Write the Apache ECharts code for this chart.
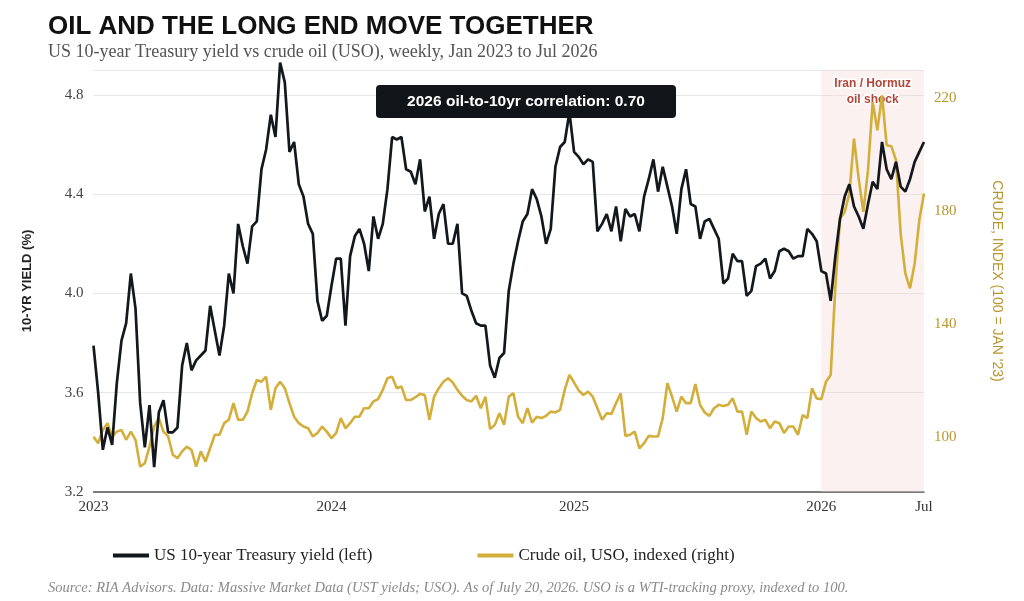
<!DOCTYPE html>
<html lang="en">
<head>
  <meta charset="UTF-8">
  <title>Oil and the long end</title>
  <script src="https://cdn.jsdelivr.net/npm/echarts@6/dist/echarts.min.js"></script>
  <style>
    html, body { margin: 0; padding: 0; background: #fff; }
    #chart { width: 1024px; height: 601px; }
  </style>
</head>
<body>
  <div id="chart"></div>
  <script>
    // weekly series, first week of Jan 2023 onward
    const startDate = '2023-01-06'
    const yieldData = [
      3.79, 3.60, 3.37, 3.46, 3.39, 3.64, 3.81, 3.88, 4.08, 3.94,
      3.56, 3.38, 3.55, 3.30, 3.52, 3.57, 3.44, 3.44, 3.46, 3.71,
      3.80, 3.69, 3.73, 3.75, 3.77, 3.95, 3.85, 3.75, 3.87, 4.08,
      4.00, 4.28, 4.19, 4.12, 4.27, 4.29, 4.50, 4.58, 4.72, 4.63,
      4.93, 4.85, 4.57, 4.61, 4.44, 4.39, 4.28, 4.24, 3.97, 3.89,
      3.91, 4.03, 4.14, 4.14, 3.87, 4.15, 4.23, 4.26, 4.20, 4.09,
      4.31, 4.22, 4.28, 4.42, 4.63, 4.62, 4.63, 4.50, 4.49, 4.44,
      4.54, 4.33, 4.39, 4.22, 4.32, 4.36, 4.20, 4.20, 4.28, 4.00,
      3.99, 3.93, 3.88, 3.87, 3.87, 3.71, 3.66, 3.74, 3.76, 4.01,
      4.12, 4.21, 4.29, 4.32, 4.42, 4.38, 4.31, 4.20, 4.26, 4.51,
      4.59, 4.61, 4.73, 4.57, 4.55, 4.52, 4.54, 4.53, 4.25, 4.28,
      4.32, 4.25, 4.35, 4.21, 4.34, 4.31, 4.32, 4.25, 4.39, 4.46,
      4.54, 4.41, 4.51, 4.43, 4.35, 4.24, 4.42, 4.50, 4.36, 4.35,
      4.22, 4.29, 4.30, 4.26, 4.22, 4.04, 4.06, 4.16, 4.13, 4.13,
      3.99, 4.01, 4.11, 4.12, 4.14, 4.06, 4.09, 4.17, 4.18, 4.17,
      4.14, 4.15, 4.15, 4.26, 4.24, 4.21, 4.09, 4.08, 3.97, 4.15,
      4.30, 4.39, 4.44, 4.35, 4.31, 4.26, 4.36, 4.45, 4.42, 4.61,
      4.50, 4.46, 4.53, 4.43, 4.41, 4.46, 4.53, 4.57, 4.61
    ]
    const crudeData = [
      100, 97.7, 102.4, 104.8, 100.1, 101.8, 102.4, 98.9, 101.8, 98.9,
      89.4, 90.6, 96.5, 103.6, 106.6, 101.8, 100.1, 93.6, 92.4, 94.8,
      96.5, 95.3, 89.4, 94.8, 91.2, 95.9, 100.7, 100.7, 104.8, 106.0,
      111.9, 106.0, 106.0, 108.9, 115.4, 120.1, 119.5, 121.3, 109.5, 117.2,
      119.5, 117.2, 111.9, 107.1, 104.8, 103.6, 103.0, 100.1, 101.3, 103.6,
      101.8, 99.5, 101.3, 106.6, 103.0, 104.8, 107.1, 107.1, 110.1, 110.1,
      112.5, 113.3, 116.6, 120.7, 121.3, 117.2, 117.8, 113.0, 113.0, 114.0,
      115.2, 114.8, 106.0, 114.2, 117.2, 119.5, 120.7, 119.2, 116.6, 114.5,
      113.0, 112.5, 114.5, 110.1, 114.2, 102.7, 104.2, 108.3, 104.2, 114.2,
      115.4, 107.1, 104.8, 110.1, 105.0, 107.1, 106.6, 107.4, 108.9, 108.6,
      109.5, 116.6, 121.9, 119.2, 116.4, 114.8, 116.0, 114.2, 110.1, 106.0,
      108.3, 108.1, 111.9, 115.4, 100.3, 100.7, 101.8, 95.9, 97.7, 100.3,
      100.1, 100.1, 106.6, 119.0, 114.2, 108.9, 114.2, 111.9, 111.9, 118.7,
      111.3, 108.6, 107.4, 110.1, 111.3, 110.9, 111.3, 113.6, 108.9, 108.9,
      100.7, 108.9, 106.6, 105.4, 106.0, 103.0, 105.4, 104.8, 101.3, 103.6,
      103.6, 100.7, 107.7, 106.6, 117.2, 113.6, 113.3, 119.5, 121.9, 153.2,
      177.4, 179.7, 186.2, 205.7, 191.5, 179.7, 194.5, 218.7, 208.6, 221.0,
      203.3, 203.0, 198.0, 172.0, 157.9, 152.6, 161.4, 176.8, 186.2
    ]
    const xTickIdx = [0, 51, 103, 156, 178]
    const xTickText = ['2023', '2024', '2025', '2026', 'Jul']
    const yieldTicks = [3.2, 3.6, 4.0, 4.4, 4.8]
    const crudeTicks = [100, 140, 180, 220]
    const shockStart = '2026-01-02'
    const shockLabel = 'Iran / Hormuz\noil shock'
    const corrText = '2026 oil-to-10yr correlation: 0.70'

    const weeks = []
    let d = new Date(startDate + 'T00:00:00Z')
    for (let i = 0; i < yieldData.length; i++) {
      weeks.push(d.toISOString().slice(0, 10))
      d = new Date(d.getTime() + 7 * 864e5)
    }

    const BLACK = '#14171c'
    const GOLD = '#d4ae3a'
    const GOLD_TEXT = '#b8962e'
    const SERIF = '"Liberation Serif", "DejaVu Serif", serif'
    const SANS = '"Liberation Sans", Arial, sans-serif'

    const chart = echarts.init(document.getElementById('chart'))

    chart.setOption({
      animation: false,
      backgroundColor: '#fff',
      title: {
        text: 'OIL AND THE LONG END MOVE TOGETHER',
        subtext: 'US 10-year Treasury yield vs crude oil (USO), weekly, Jan 2023 to Jul 2026',
        left: 43,
        top: 9,
        itemGap: 3,
        textStyle: { fontFamily: SANS, fontWeight: 'bold', fontSize: 26, color: '#111' },
        subtextStyle: { fontFamily: SERIF, fontSize: 18, color: '#555' }
      },
      grid: { left: 93.5, right: 100, top: 70, bottom: 109 },
      legend: {
        left: 108,
        top: 542,
        icon: 'rect',
        itemWidth: 36,
        itemHeight: 4,
        itemGap: 105,
        textStyle: { fontFamily: SERIF, fontSize: 17, color: '#222' },
        data: ['US 10-year Treasury yield (left)', 'Crude oil, USO, indexed (right)']
      },
      xAxis: {
        type: 'category',
        boundaryGap: false,
        data: weeks,
        axisTick: { show: false },
        axisLine: { lineStyle: { color: '#555', width: 1.5 } },
        axisLabel: {
          interval: idx => xTickIdx.includes(idx),
          formatter: (val, idx) => xTickText[xTickIdx.indexOf(idx)],
          fontFamily: SERIF,
          fontSize: 15,
          color: '#333',
          margin: 8
        },
        splitLine: { show: false }
      },
      yAxis: [
        {
          type: 'value',
          min: 3.2,
          max: 4.9,
          interval: 0.4,
          name: '10-YR YIELD (%)',
          nameLocation: 'middle',
          nameGap: 60,
          nameTextStyle: { fontFamily: SANS, fontWeight: 'bold', fontSize: 13, color: '#222' },
          axisLine: { show: false },
          axisTick: { show: false },
          axisLabel: {
            customValues: yieldTicks,
            formatter: v => v.toFixed(1),
            fontFamily: SERIF,
            fontSize: 15,
            color: '#444',
            margin: 10
          },
          splitLine: { lineStyle: { color: '#e6e6e6', width: 1 } }
        },
        {
          type: 'value',
          min: 80.4,
          max: 230,
          position: 'right',
          name: "CRUDE, INDEX (100 = JAN '23)",
          nameLocation: 'middle',
          nameRotate: -90,
          nameGap: 66,
          nameTextStyle: { fontFamily: SANS, fontSize: 14, color: GOLD_TEXT },
          axisLine: { show: false },
          axisTick: { show: false },
          axisLabel: {
            customValues: crudeTicks,
            fontFamily: SERIF,
            fontSize: 15,
            color: GOLD_TEXT,
            margin: 10
          },
          splitLine: { show: false }
        }
      ],
      series: [
        {
          name: 'US 10-year Treasury yield (left)',
          type: 'line',
          data: yieldData,
          yAxisIndex: 0,
          symbol: 'none',
          clip: false,
          z: 3,
          lineStyle: { color: BLACK, width: 2.7 },
          itemStyle: { color: BLACK },
          markArea: {
            silent: true,
            itemStyle: { color: 'rgba(240, 215, 212, 0.35)' },
            label: {
              show: true,
              position: 'insideTop',
              distance: 6,
              fontFamily: SANS,
              fontWeight: 'bold',
              fontSize: 12,
              lineHeight: 16,
              color: '#b0473a',
              textBorderColor: '#fff',
              textBorderWidth: 3
            },
            data: [[{ name: shockLabel, xAxis: shockStart }, { xAxis: weeks[weeks.length - 1] }]]
          }
        },
        {
          name: 'Crude oil, USO, indexed (right)',
          type: 'line',
          data: crudeData,
          yAxisIndex: 1,
          symbol: 'none',
          z: 2,
          lineStyle: { color: GOLD, width: 2.6 },
          itemStyle: { color: GOLD }
        }
      ],
      graphic: [
        {
          type: 'rect',
          left: 376,
          top: 85,
          z: 100,
          shape: { width: 300, height: 33, r: 4 },
          style: { fill: '#111419' },
          textContent: {
            z: 101,
            style: {
              text: corrText,
              fill: '#fff',
              font: 'bold 15.5px "Liberation Sans", Arial, sans-serif'
            }
          },
          textConfig: { position: 'inside' }
        },
        {
          type: 'text',
          left: 48,
          top: 581,
          style: {
            text: 'Source: RIA Advisors. Data: Massive Market Data (UST yields; USO). As of July 20, 2026. USO is a WTI-tracking proxy, indexed to 100.',
            fill: '#8a8a8a',
            font: 'italic 14.5px "Liberation Serif", serif'
          }
        }
      ]
    })
  </script>
</body>
</html>
